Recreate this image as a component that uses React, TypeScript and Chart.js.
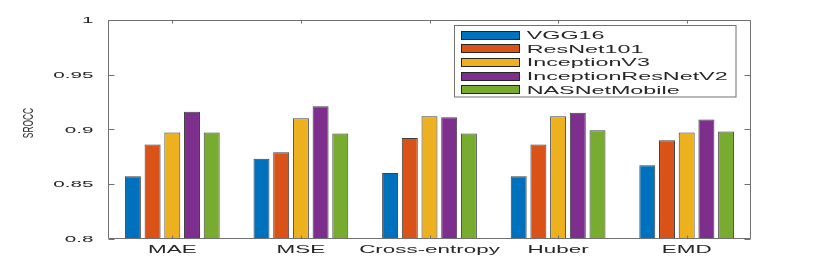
import { useEffect, useRef } from 'react';
import { Chart, registerables } from 'chart.js';

Chart.register(...registerables);

const categories = ['MAE', 'MSE', 'Cross-entropy', 'Huber', 'EMD'];
const seriesNames = ['VGG16', 'ResNet101', 'InceptionV3', 'InceptionResNetV2', 'NASNetMobile'];
const vgg16 = [0.857, 0.873, 0.86, 0.857, 0.867];
const resNet101 = [0.886, 0.879, 0.892, 0.886, 0.89];
const inceptionV3 = [0.897, 0.91, 0.912, 0.912, 0.897];
const inceptionResNetV2 = [0.916, 0.921, 0.911, 0.915, 0.909];
const nasNetMobile = [0.897, 0.896, 0.896, 0.899, 0.898];
const yTicks = [0.8, 0.85, 0.9, 0.95, 1];
const yTickLabels = ['0.8', '0.85', '0.9', '0.95', '1'];
const yTitle = 'SROCC';

const seriesValues = [vgg16, resNet101, inceptionV3, inceptionResNetV2, nasNetMobile];
const colors = ['#0072BD', '#D95319', '#EDB120', '#7E2F8E', '#77AC30'];

const FONT = '"Liberation Sans", Arial, Helvetica, sans-serif';
const TEXT = '#262626';
const AXIS = '#707070';

function stretchText(
  ctx: CanvasRenderingContext2D,
  text: string,
  x: number,
  y: number,
  sx: number,
  align: CanvasTextAlign,
  baseline: CanvasTextBaseline,
) {
  ctx.save();
  ctx.translate(x, y);
  ctx.scale(sx, 1);
  ctx.textAlign = align;
  ctx.textBaseline = baseline;
  ctx.fillText(text, 0, 0);
  ctx.restore();
}

const matlabAxes = {
  id: 'matlabAxes',
  afterDatasetsDraw(chart: any) {
    const ctx: CanvasRenderingContext2D = chart.ctx;
    const { left, right, top, bottom } = chart.chartArea;
    const xs = chart.scales.x;
    const ys = chart.scales.y;
    const L = Math.round(left) + 0.5;
    const R = Math.round(right) - 0.5;
    const T = Math.round(top) + 0.5;
    const B = Math.round(bottom) - 0.5;

    ctx.save();
    ctx.strokeStyle = AXIS;
    ctx.lineWidth = 1;
    ctx.beginPath();
    ctx.rect(L, T, R - L, B - T);
    // y ticks (inward, both sides)
    yTicks.forEach((v) => {
      const py = Math.round(ys.getPixelForValue(v)) + 0.5;
      ctx.moveTo(L, py);
      ctx.lineTo(L + 6, py);
      ctx.moveTo(R, py);
      ctx.lineTo(R - 6, py);
    });
    // x ticks (inward, top and bottom)
    categories.forEach((_, i) => {
      const px = Math.round(xs.getPixelForValue(i)) + 0.5;
      ctx.moveTo(px, B);
      ctx.lineTo(px, B - 3);
      ctx.moveTo(px, T);
      ctx.lineTo(px, T + 3);
    });
    ctx.stroke();

    ctx.fillStyle = TEXT;
    // y tick labels
    ctx.font = `9.4px ${FONT}`;
    yTicks.forEach((v, i) => {
      const py = ys.getPixelForValue(v);
      stretchText(ctx, yTickLabels[i], 93.5, py + 3.4, 2.2, 'right', 'alphabetic');
    });
    // x tick labels
    ctx.font = `10.2px ${FONT}`;
    categories.forEach((c, i) => {
      const px = xs.getPixelForValue(i);
      stretchText(ctx, c, px, 252.7, 2.2, 'center', 'alphabetic');
    });
    // y title
    ctx.save();
    ctx.translate(33, 123);
    ctx.rotate(-Math.PI / 2);
    ctx.font = `15px ${FONT}`;
    stretchText(ctx, yTitle, 0, 0, 0.56, 'center', 'alphabetic');
    ctx.restore();

    // legend
    const lx = 454.5;
    const ly = 25.5;
    const lw = 281.5;
    const lh = 71.5;
    ctx.fillStyle = '#ffffff';
    ctx.fillRect(lx, ly, lw, lh);
    ctx.strokeStyle = AXIS;
    ctx.strokeRect(lx, ly, lw, lh);
    ctx.font = `11px ${FONT}`;
    seriesNames.forEach((name, i) => {
      const cy = 35 + i * 13.7;
      ctx.fillStyle = colors[i];
      ctx.fillRect(461, Math.round(cy - 4.5), 59, 9);
      ctx.strokeStyle = '#262626';
      ctx.strokeRect(461.5, Math.round(cy - 4.5) + 0.5, 58, 8);
      ctx.fillStyle = TEXT;
      stretchText(ctx, name, 526.7, cy + 4, 2.12, 'left', 'alphabetic');
    });
    ctx.restore();
  },
};

export default function App() {
  const ref = useRef<HTMLCanvasElement | null>(null);
  useEffect(() => {
    if (!ref.current) return;
    const chart = new Chart(ref.current, {
      type: 'bar',
      data: {
        labels: categories,
        datasets: seriesNames.map((name, i) => ({
          label: name,
          data: seriesValues[i],
          backgroundColor: colors[i],
          borderColor: 'rgba(30,30,30,0.85)',
          borderWidth: 1,
          categoryPercentage: 0.766,
          barPercentage: 0.81,
        })),
      },
      options: {
        responsive: false,
        maintainAspectRatio: false,
        animation: false,
        layout: { padding: { left: 108, right: 79, top: 20, bottom: 29.5 } },
        plugins: { legend: { display: false }, tooltip: { enabled: false } },
        scales: {
          x: { display: false, offset: true },
          y: { display: false, min: 0.8, max: 1 },
        },
      },
      plugins: [matlabAxes],
    });
    return () => chart.destroy();
  }, []);
  return (
    <div style={{ position: 'fixed', left: 0, top: 0, width: 830, height: 268, background: '#fff' }}>
      <canvas ref={ref} width={830} height={268} style={{ display: 'block', width: 830, height: 268 }} />
    </div>
  );
}
